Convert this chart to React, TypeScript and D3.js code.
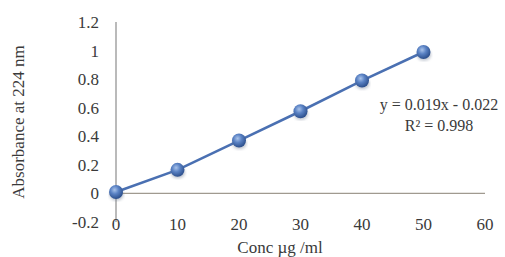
import React, { useEffect, useRef } from 'react';
import * as d3 from 'd3';

// concentration (µg/ml) and absorbance
const conc = [0, 10, 20, 30, 40, 50];
const absorbance = [0.01, 0.165, 0.37, 0.575, 0.79, 0.99];
const xTicks = [0, 10, 20, 30, 40, 50, 60];
const yTicks = [-0.2, 0, 0.2, 0.4, 0.6, 0.8, 1, 1.2];
const equationLines = ['y = 0.019x - 0.022', 'R² = 0.998'];

const W = 505;
const H = 257;
const FONT = '"Liberation Serif", "Times New Roman", serif';

const App: React.FC = () => {
  const svgRef = useRef<SVGSVGElement>(null);

  useEffect(() => {
    if (!svgRef.current) return;
    const svg = d3.select(svgRef.current);
    svg.selectAll('*').remove();

    const x = d3.scaleLinear().domain([0, 60]).range([116, 485]);
    const y = d3.scaleLinear().domain([-0.2, 1.2]).range([222, 22]);

    svg.append('rect').attr('width', W).attr('height', H).attr('fill', '#fff');

    // marker gradient + blur for the soft shadow
    const defs = svg.append('defs');
    const grad = defs.append('radialGradient')
      .attr('id', 'ball').attr('cx', '40%').attr('cy', '35%').attr('r', '65%');
    grad.append('stop').attr('offset', '0%').attr('stop-color', '#a9c3ea');
    grad.append('stop').attr('offset', '45%').attr('stop-color', '#5a82c4');
    grad.append('stop').attr('offset', '100%').attr('stop-color', '#2c4f8c');
    defs.append('filter').attr('id', 'soft')
      .append('feGaussianBlur').attr('stdDeviation', 1.6);

    // axes lines
    svg.append('line')
      .attr('x1', x(0)).attr('x2', x(0))
      .attr('y1', y(1.2)).attr('y2', y(-0.2))
      .attr('stroke', '#8c8c8c').attr('stroke-width', 1.2);
    svg.append('line')
      .attr('x1', x(0)).attr('x2', x(60))
      .attr('y1', y(0)).attr('y2', y(0))
      .attr('stroke', '#a09a90').attr('stroke-width', 1.2);

    // tick labels
    svg.append('g')
      .selectAll('text')
      .data(yTicks)
      .join('text')
      .attr('x', 99)
      .attr('y', d => y(d))
      .attr('dy', '0.35em')
      .attr('text-anchor', 'end')
      .attr('font-family', FONT)
      .attr('font-size', 17)
      .attr('fill', '#3a3a3a')
      .text(d => String(+d.toFixed(1)));

    svg.append('g')
      .selectAll('text')
      .data(xTicks)
      .join('text')
      .attr('x', d => x(d))
      .attr('y', 230)
      .attr('text-anchor', 'middle')
      .attr('font-family', FONT)
      .attr('font-size', 17)
      .attr('fill', '#3a3a3a')
      .text(d => String(d));

    // axis titles
    svg.append('text')
      .attr('x', 280).attr('y', 253)
      .attr('text-anchor', 'middle')
      .attr('font-family', FONT).attr('font-size', 17).attr('fill', '#3a3a3a')
      .text('Conc µg /ml');
    svg.append('text')
      .attr('transform', `translate(24,${y(0.5)}) rotate(-90)`)
      .attr('text-anchor', 'middle')
      .attr('font-family', FONT).attr('font-size', 17).attr('fill', '#3a3a3a')
      .text('Absorbance at 224 nm');

    // series line
    const line = d3.line<number>()
      .x((_, i) => x(conc[i]))
      .y(d => y(d));
    svg.append('path')
      .datum(absorbance)
      .attr('d', line)
      .attr('fill', 'none')
      .attr('stroke', '#4a70b2')
      .attr('stroke-width', 2.6);

    // markers
    const pts = svg.append('g')
      .selectAll('g')
      .data(absorbance)
      .join('g')
      .attr('transform', (d, i) => `translate(${x(conc[i])},${y(d)})`);
    pts.append('ellipse')
      .attr('cx', 0.5).attr('cy', 3)
      .attr('rx', 7).attr('ry', 5.5)
      .attr('fill', '#6a7890').attr('opacity', 0.45)
      .attr('filter', 'url(#soft)');
    pts.append('circle')
      .attr('r', 7)
      .attr('fill', 'url(#ball)');

    // trendline label
    svg.append('g')
      .selectAll('text')
      .data(equationLines)
      .join('text')
      .attr('x', 439)
      .attr('y', (_, i) => 110 + i * 21)
      .attr('text-anchor', 'middle')
      .attr('font-family', FONT)
      .attr('font-size', 16)
      .attr('fill', '#3a3a3a')
      .text(d => d);
  }, []);

  return (
    <svg
      ref={svgRef}
      width={W}
      height={H}
      style={{ position: 'absolute', left: 0, top: 0 }}
    />
  );
};

export default App;
